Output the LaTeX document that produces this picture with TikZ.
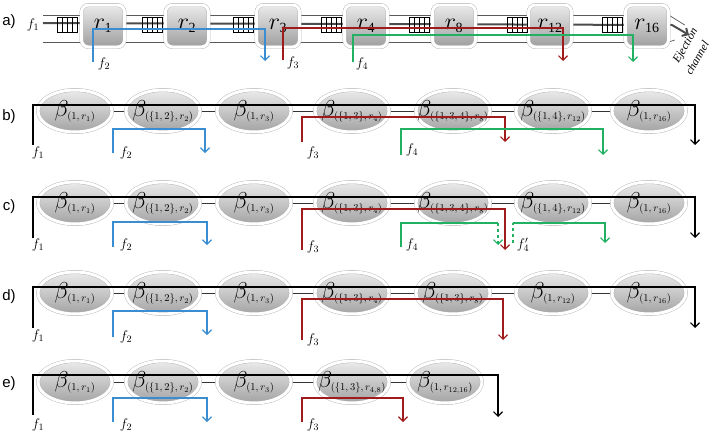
\RequirePackage{fix-cm}
\documentclass[tikz,border=0pt]{standalone}
\usepackage{fontspec}
\setmainfont{Liberation Serif}
\newfontfamily\sansf{Liberation Sans}
\usetikzlibrary{arrows.meta,backgrounds,shadows,shapes.geometric}
\definecolor{flowblue}{HTML}{3A8DD0}
\definecolor{flowred}{HTML}{A01C1C}
\definecolor{flowgreen}{HTML}{22B062}
\definecolor{ringgrey}{HTML}{B0B0B0}
\tikzset{every node/.style={font=\fontsize{14}{16}\selectfont},
  router/.style={rectangle,rounded corners=7pt,minimum width=43pt,minimum height=42pt,
    inner sep=0pt,top color=black!8,bottom color=black!38,draw=ringgrey,
    double=white,double distance=3pt,font=\fontsize{24}{24}\selectfont,
    drop shadow={opacity=0.25,shadow xshift=0.6pt,shadow yshift=-0.8pt}},
  cell/.style={ellipse,minimum width=74pt,minimum height=42pt,inner sep=0pt,
    top color=black!8,bottom color=black!36,draw=ringgrey,
    double=white,double distance=3pt,
    drop shadow={opacity=0.25,shadow xshift=0.6pt,shadow yshift=-0.8pt}},
  rowlabel/.style={font=\sansf\fontsize{15}{15}\selectfont},
  flab/.style={inner sep=0pt},
  ejtext/.style={rotate=60,inner sep=0pt,font=\itshape\fontsize{11.5}{12}\selectfont}}
\newcommand{\rl}[1]{$r_{\mbox{\fontsize{14}{14}\selectfont#1}}$}
\newcommand{\bl}[1]{\smash{\makebox[0pt]{\raisebox{-5pt}{%
  \fontsize{23}{23}\selectfont$\beta_{\mbox{\fontsize{10.5}{11}\selectfont$(#1)$}}$}}}}
\newcommand{\buf}[1]{% input buffer, four slots
  \draw[black,line width=0.6pt] (#1,17) rectangle ++(20,15);
  \foreach \k in {5,10,15} \draw[black,line width=0.6pt] (#1+\k,17) -- ++(0,15);}
\newcommand{\flow}[4]{\draw[#1] (#2) -- ++(0,-#4) -| (#3);}

\begin{document}
\begin{tikzpicture}[x=1pt,y=-1pt,
    chan/.style={draw=black!65,line width=0.7pt},
    lnk/.style={draw=black!80,line width=0.9pt},
    trunk/.style={draw=black!70,line width=2pt},
    fl/.style={line width=1.1pt,-{Straight Barb[length=4.5pt,width=9pt]}},
    fb/.style={fl,draw=flowblue},
    fr/.style={fl,draw=flowred},
    fg/.style={fl,draw=flowgreen},
    fk/.style={fl,draw=black}]
  \path[use as bounding box] (0,0) rectangle (712,434);

  % Row a: routers, channels and buffers
  \node[rowlabel] (la) at (9,22) {a)};
  \node[router] (r1) at (103,26) {\rl{1}};
  \node[router] (r2) at (187,26) {\rl{2}};
  \node[router] (r3) at (278,26) {\rl{3}};
  \node[router] (r4) at (366,26) {\rl{4}};
  \node[router] (r8) at (454,26) {\rl{8}};
  \node[router] (r12) at (550,26) {\rl{12}};
  \node[router] (r16) at (647,26) {\rl{16}};
  \coordinate (ain) at (43,26);
  \coordinate (a1s) at (43,23);
  \coordinate (a1k) at (672,25);
  \coordinate (aout) at (689,35);
  \begin{scope}[on background layer]
    \foreach \u/\v in {ain/r1,r1/r2,r2/r3,r3/r4,r4/r8,r8/r12,r12/r16} {
      \draw[chan] ([yshift=11pt]\u.east) -- ([yshift=11pt]\v.west);
      \draw[chan] ([yshift=-16pt]\u.east) -- ([yshift=-16pt]\v.west);}
    \draw[chan] ([yshift=11pt]r16.east) -- ++(16,10);
    \draw[chan] ([yshift=-16pt]r16.east) -- ++(6,-2);
    \draw[trunk,-{Straight Barb[length=4.5pt,width=9pt]}] (a1s) -- (a1k) -- (aout);
  \end{scope}
  \buf{57} \buf{142} \buf{233} \buf{321} \buf{409} \buf{507} \buf{602}
  \node[ejtext] (ej1) at (686,46) {Ejection};
  \node[ejtext] (ej2) at (697,58) {channel};

  % Row a: flows
  \node[flab] (af1) at (33,25) {$f_1$};
  \node[flab] (af2) at (104,64) {$f_2$};
  \node[flab] (af3) at (293,63) {$f_3$};
  \node[flab] (af4) at (362,64) {$f_4$};
  \coordinate (a2s) at (93,62);  \coordinate (a2e) at (265,61);
  \coordinate (a3s) at (283,60); \coordinate (a3e) at (563,61);
  \coordinate (a4s) at (353,62); \coordinate (a4e) at (633,62);
  \flow{fb}{a2s}{a2e}{33}
  \flow{fr}{a3s}{a3e}{32}
  \flow{fg}{a4s}{a4e}{27}

  % Row b
  \node[rowlabel] (lb) at (9,117) {b)};
  \node[cell] (b1) at (75,111) {\bl{1,r_1}};
  \node[cell] (b2) at (163,111) {\bl{\{1,2\},r_2}};
  \node[cell] (b3) at (254,111) {\bl{1,r_3}};
  \node[cell] (b4) at (352,111) {\bl{\{1,3\},r_4}};
  \node[cell] (b5) at (453,111) {\bl{\{1,3,4\},r_8}};
  \node[cell] (b6) at (553,111) {\bl{\{1,4\},r_{12}}};
  \node[cell] (b7) at (649,111) {\bl{1,r_{16}}};
  \node[flab] (bf1) at (38,153) {$f_1$};
  \node[flab] (bf2) at (126,153) {$f_2$};
  \node[flab] (bf3) at (313,153) {$f_3$};
  \node[flab] (bf4) at (412,150) {$f_4$};
  \coordinate (b1s) at (33,145);  \coordinate (b1e) at (695,145);
  \coordinate (b2s) at (113,153); \coordinate (b2e) at (205,153);
  \coordinate (b3s) at (302,142); \coordinate (b3e) at (505,142);
  \coordinate (b4s) at (401,155); \coordinate (b4e) at (603,155);
  \flow{fk}{b1s}{b1e}{40}
  \flow{fb}{b2s}{b2e}{24}
  \flow{fr}{b3s}{b3e}{25}
  \flow{fg}{b4s}{b4e}{26}

  % Row c
  \node[rowlabel] (lc) at (9,207) {c)};
  \node[cell] (c1) at (75,203) {\bl{1,r_1}};
  \node[cell] (c2) at (163,203) {\bl{\{1,2\},r_2}};
  \node[cell] (c3) at (254,203) {\bl{1,r_3}};
  \node[cell] (c4) at (352,203) {\bl{\{1,3\},r_4}};
  \node[cell] (c5) at (453,203) {\bl{\{1,3,4\},r_8}};
  \node[cell] (c6) at (553,203) {\bl{\{1,4\},r_{12}}};
  \node[cell] (c7) at (649,203) {\bl{1,r_{16}}};
  \node[flab] (cf1) at (38,245) {$f_1$};
  \node[flab] (cf2) at (126,245) {$f_2$};
  \node[flab] (cf3) at (313,247) {$f_3$};
  \node[flab] (cf4) at (412,245) {$f_4$};
  \node[flab] (cf5) at (523,245) {$f_4'$};
  \coordinate (c1s) at (33,238);  \coordinate (c1e) at (695,238);
  \coordinate (c2s) at (113,247); \coordinate (c2e) at (207,245);
  \coordinate (c3s) at (302,250); \coordinate (c3e) at (505,250);
  \coordinate (c4s) at (401,247); \coordinate (c4k) at (498,223);
  \coordinate (c4e) at (498,245);
  \coordinate (c5s) at (513,243); \coordinate (c5k) at (513,223);
  \coordinate (c5e) at (605,243);
  \flow{fk}{c1s}{c1e}{41}
  \flow{fb}{c2s}{c2e}{25}
  \flow{fr}{c3s}{c3e}{41}
  \draw[line width=1.1pt,draw=flowgreen] (c4s) |- (c4k);
  \draw[fg,dashed] (c4k) -- (c4e);
  \draw[line width=1.1pt,draw=flowgreen,dashed] (c5s) -- (c5k);
  \draw[fg] (c5k) -| (c5e);

  % Row d
  \node[rowlabel] (ld) at (9,297) {d)};
  \node[cell] (d1) at (75,293) {\bl{1,r_1}};
  \node[cell] (d2) at (163,293) {\bl{\{1,2\},r_2}};
  \node[cell] (d3) at (254,293) {\bl{1,r_3}};
  \node[cell] (d4) at (352,293) {\bl{\{1,3\},r_4}};
  \node[cell] (d5) at (453,293) {\bl{\{1,3\},r_8}};
  \node[cell] (d6) at (553,293) {\bl{1,r_{12}}};
  \node[cell] (d7) at (649,293) {\bl{1,r_{16}}};
  \node[flab] (df1) at (38,336) {$f_1$};
  \node[flab] (df2) at (126,337) {$f_2$};
  \node[flab] (df3) at (313,340) {$f_3$};
  \coordinate (d1s) at (33,328);  \coordinate (d1e) at (695,328);
  \coordinate (d2s) at (113,337); \coordinate (d2e) at (207,335);
  \coordinate (d3s) at (302,340); \coordinate (d3e) at (503,340);
  \flow{fk}{d1s}{d1e}{41}
  \flow{fb}{d2s}{d2e}{26}
  \flow{fr}{d3s}{d3e}{41}

  % Row e
  \node[rowlabel] (le) at (9,384) {e)};
  \node[cell] (e1) at (75,382) {\bl{1,r_1}};
  \node[cell] (e2) at (163,382) {\bl{\{1,2\},r_2}};
  \node[cell] (e3) at (254,382) {\bl{1,r_3}};
  \node[cell] (e4) at (352,382) {\bl{\{1,3\},r_{4,8}}};
  \node[cell] (e5) at (445,382) {\bl{1,r_{12,16}}};
  \node[flab] (ef1) at (38,425) {$f_1$};
  \node[flab] (ef2) at (126,425) {$f_2$};
  \node[flab] (ef3) at (313,425) {$f_3$};
  \coordinate (e1s) at (33,415);  \coordinate (e1e) at (498,417);
  \coordinate (e2s) at (113,422); \coordinate (e2e) at (207,422);
  \coordinate (e3s) at (302,422); \coordinate (e3e) at (403,422);
  \flow{fk}{e1s}{e1e}{40}
  \flow{fb}{e2s}{e2e}{24}
  \flow{fr}{e3s}{e3e}{24}

  % Links between neighbouring cells
  \begin{scope}[on background layer]
    \foreach \r in {b,c,d}
      \foreach \i/\j in {1/2,2/3,3/4,4/5,5/6,6/7}
        \draw[lnk] (\r\i) -- (\r\j);
    \foreach \i/\j in {1/2,2/3,3/4,4/5}
      \draw[lnk] (e\i) -- (e\j);
  \end{scope}
\end{tikzpicture}
\end{document}
